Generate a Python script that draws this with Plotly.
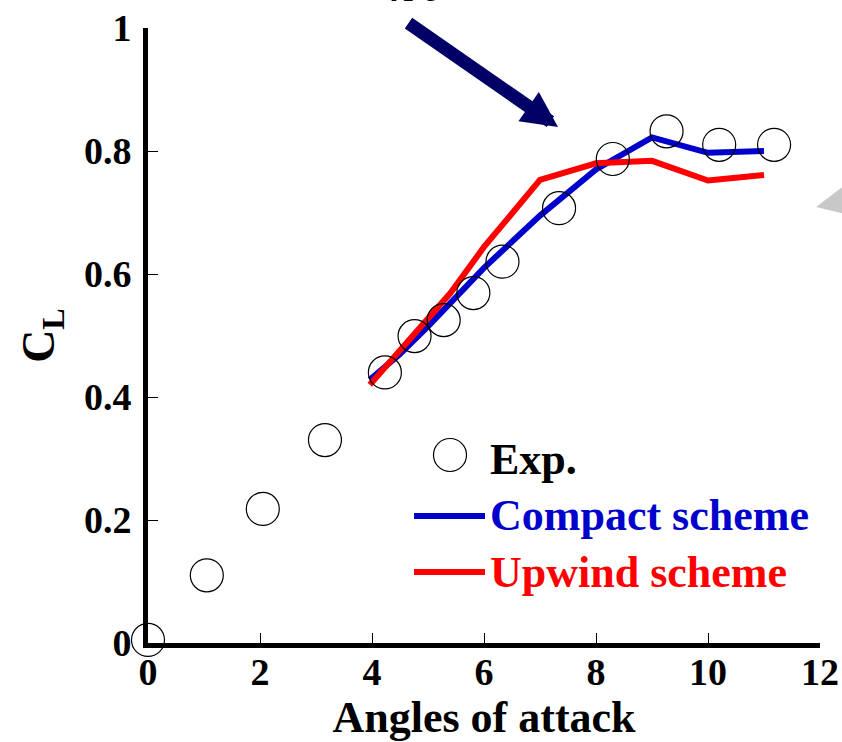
import plotly.graph_objects as go

# Experimental data
exp_x = [0, 1.05, 2.05, 3.16, 4.23, 4.76, 5.28, 5.81, 6.33, 7.34, 8.30, 9.26, 10.20, 11.18]
exp_y = [0.005, 0.11, 0.218, 0.33, 0.44, 0.499, 0.525, 0.569, 0.620, 0.707, 0.787, 0.832, 0.810, 0.810]

# Compact scheme
compact_x = [3.96, 4.5, 5, 6, 7, 8, 9, 10, 11]
compact_y = [0.428, 0.47, 0.515, 0.61, 0.695, 0.770, 0.822, 0.797, 0.800]

# Upwind scheme
upwind_x = [3.96, 5, 5.4, 6, 7, 8, 9, 10, 11]
upwind_y = [0.42, 0.53, 0.569, 0.644, 0.753, 0.780, 0.784, 0.752, 0.761]

x_ticks = [0, 2, 4, 6, 8, 10, 12]
y_ticks = [0, 0.2, 0.4, 0.6, 0.8, 1]
y_ticklabels = ["0", "0.2", "0.4", "0.6", "0.8", "1"]

FONT = "Liberation Serif"
BLUE = "#0000CC"
RED = "#FF0000"
NAVY = "#000066"

fig = go.Figure()
fig.add_trace(go.Scatter(x=compact_x, y=compact_y, mode="lines",
                         line=dict(color=BLUE, width=6), name="Compact scheme"))
fig.add_trace(go.Scatter(x=upwind_x, y=upwind_y, mode="lines",
                         line=dict(color=RED, width=6), name="Upwind scheme"))
fig.add_trace(go.Scatter(x=exp_x, y=exp_y, mode="markers", cliponaxis=False,
                         marker=dict(symbol="circle-open", size=33,
                                     color="black", line=dict(width=1.2, color="black")),
                         name="Exp."))

# pixel -> paper helpers for decorations (legend / arrows)
def px_(px):
    return (px - 148) / 672.0

def py_(py):
    return (643 - py) / 615.0

shapes = []
annotations = []

# manual legend
shapes.append(dict(type="circle", xref="paper", yref="paper",
                   x0=px_(450 - 16.5), x1=px_(450 + 16.5), y0=py_(455 + 16.5), y1=py_(455 - 16.5),
                   line=dict(color="black", width=1.2)))
shapes.append(dict(type="line", xref="paper", yref="paper", x0=px_(414), x1=px_(485), y0=py_(516), y1=py_(516),
                   line=dict(color=BLUE, width=6)))
shapes.append(dict(type="line", xref="paper", yref="paper", x0=px_(414), x1=px_(485), y0=py_(572), y1=py_(572),
                   line=dict(color=RED, width=6)))
for txt, py, col in [("Exp.", 459, "black"), ("Compact scheme", 515, BLUE), ("Upwind scheme", 572, RED)]:
    annotations.append(dict(x=px_(488), y=py_(py), xref="paper", yref="paper", text="<b>%s</b>" % txt,
                            showarrow=False, xanchor="left", yanchor="middle",
                            font=dict(family=FONT, size=44, color=col)))

# navy arrow
annotations.append(dict(x=px_(558), y=py_(127), xref="paper", yref="paper", ax=-151, ay=-105,
                        showarrow=True, arrowhead=2, arrowsize=0.55, arrowwidth=13,
                        arrowcolor=NAVY, text=""))

# cut-off text at top
annotations.append(dict(x=px_(416), y=py_(12), xref="paper", yref="paper", text="<b><i>x/c</i></b>",
                        showarrow=False, xanchor="center", yanchor="bottom",
                        font=dict(family=FONT, size=40, color="black")))

# grey triangle on right edge
shapes.append(dict(type="path", xref="paper", yref="paper",
                   path="M %f,%f L %f,%f L %f,%f Z" % (px_(816), py_(207), px_(845), py_(185), px_(845), py_(214)),
                   fillcolor="#C8C8C8", line=dict(width=0)))

fig.update_layout(
    width=842, height=742,
    margin=dict(l=148, r=22, t=28, b=99),
    paper_bgcolor="white", plot_bgcolor="white",
    showlegend=False,
    font=dict(family=FONT, color="black"),
    shapes=shapes, annotations=annotations,
)
fig.update_xaxes(range=[0, 12], tickvals=x_ticks, ticktext=["<b>%s</b>" % v for v in x_ticks],
                 automargin=False,
                 showline=True, linewidth=5, linecolor="black", showgrid=False, zeroline=False,
                 ticks="inside", ticklen=10, tickwidth=1.2, tickcolor="black",
                 tickfont=dict(family=FONT, size=38, color="black"),
                 ticklabelstandoff=-9,
                 title=dict(text="<b>Angles of attack</b>", font=dict(family=FONT, size=44), standoff=20))
fig.update_yaxes(range=[0, 1], tickvals=y_ticks, ticktext=["<b>%s</b>" % t for t in y_ticklabels],
                 automargin=False,
                 showline=True, linewidth=5, linecolor="black", showgrid=False, zeroline=False,
                 ticks="inside", ticklen=10, tickwidth=1.2, tickcolor="black",
                 tickfont=dict(family=FONT, size=38, color="black"),
                 ticklabelstandoff=4,
                 title=dict(text="<b>C<sub>L</sub></b>", font=dict(family=FONT, size=46), standoff=16))

fig.write_html("out.html")
